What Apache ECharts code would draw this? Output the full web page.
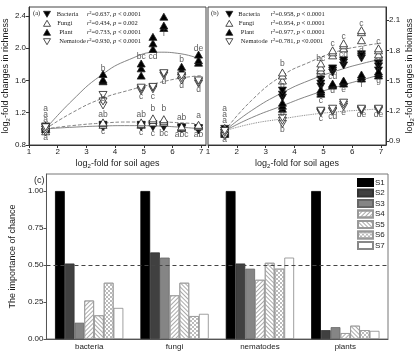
<!DOCTYPE html>
<html><head><meta charset="utf-8">
<script src="https://cdn.jsdelivr.net/npm/echarts@6/dist/echarts.min.js"></script>
<style>html,body{margin:0;padding:0;background:#fff}#c{width:416px;height:359px}</style>
</head><body><div id="c"></div>
<script>
// ---------- data ----------
const ages = [1.58, 3.58, 4.91, 5.32, 5.7, 6.32, 6.91];

// (a) richness, replicates per soil age
const richBacteria = [[0.99,1.01,1.03],[1.02,1.04,1.05],[1.02,1.04,1.05],[1.02,1.04,1.06],[1.02,1.04,1.05],[1.0,1.01,1.02],[0.98,1.0,1.01]];
const richFungi    = [[0.97,1.0,1.03],[1.05,1.07,1.08],[1.05,1.06,1.08],[1.08,1.11,1.13],[1.08,1.1,1.12],[1.01,1.02,1.03],[1.03,1.04,1.05]];
const richPlant    = [[1.0,1.02,1.04],[1.59,1.61,1.68],[1.66,1.75,1.81],[1.99,2.06,2.14],[2.25,2.28,2.39],[1.67,1.72,1.77],[1.82,1.85,1.92]];
const richNematode = [[0.96,0.99,1.02],[1.29,1.34,1.42],[1.47,1.49,1.51],[1.49,1.51,1.52],[1.66,1.68,1.69],[1.6,1.63,1.66],[1.56,1.58,1.6]];
const richFitBacteria = [[1.58,1.0],[2.5,1.02],[3.5,1.035],[4.5,1.04],[5.5,1.035],[6.3,1.02],[7,1.0]];
const richFitFungi    = [[1.58,1.0],[2.5,1.04],[3.5,1.07],[4.5,1.085],[5.5,1.085],[6.3,1.075],[7,1.06]];
const richFitPlant    = [[1.58,1.0],[2.5,1.35],[3.5,1.66],[4.5,1.86],[5.5,1.95],[6.3,1.93],[7,1.86]];
const richFitNematode = [[1.58,1.0],[2.5,1.2],[3.5,1.37],[4.5,1.48],[5.5,1.57],[6.3,1.63],[7,1.66]];
const richLetters = [
  [1.58,1.25,'a'],[1.58,1.18,'a'],[1.58,1.11,'a'],[1.58,0.89,'a'],
  [3.58,1.74,'b'],[3.58,1.37,'b'],[3.58,1.18,'ab'],[3.58,0.96,'c'],
  [4.91,1.9,'bc'],[4.91,1.4,'c'],[4.91,1.17,'ab'],[4.91,0.95,'c'],
  [5.32,1.9,'cd'],[5.32,1.4,'c'],[5.32,1.25,'b'],[5.32,0.94,'c'],
  [5.7,2.18,'f'],[5.7,1.59,'d'],[5.7,1.25,'b'],[5.7,0.94,'bc'],
  [6.32,1.86,'b'],[6.32,1.53,'d'],[6.32,1.14,'ab'],[6.32,0.93,'abc'],
  [6.91,2.0,'de'],[6.91,1.49,'d'],[6.91,1.16,'a'],[6.91,0.93,'ab']
];

// (b) biomass, replicates per soil age
const bioBacteria = [[0.98,1.0,1.02],[1.33,1.36,1.4],[1.44,1.47,1.51],[1.58,1.6,1.62],[1.65,1.68,1.7],[1.72,1.74,1.76],[1.6,1.64,1.67]];
const bioFungi    = [[0.98,1.0,1.03],[1.5,1.55,1.58],[1.6,1.63,1.67],[1.75,1.78,1.8],[1.82,1.85,1.87],[1.9,1.98,2.0],[1.76,1.8,1.82]];
const bioPlant    = [[0.97,0.99,1.01],[1.22,1.25,1.28],[1.37,1.39,1.41],[1.45,1.46,1.47],[1.47,1.49,1.5],[1.52,1.54,1.56],[1.55,1.57,1.59]];
const bioNematode = [[0.95,0.98,1.0],[1.07,1.1,1.13],[1.18,1.19,1.2],[1.19,1.2,1.22],[1.24,1.26,1.28],[1.2,1.21,1.22],[1.2,1.21,1.22]];
const bioFitBacteria = [[1.58,1.0],[2.5,1.2],[3.58,1.38],[4.5,1.5],[5.5,1.6],[6.5,1.68],[7,1.71]];
const bioFitFungi    = [[1.58,1.0],[2.5,1.3],[3.58,1.55],[4.5,1.68],[5.5,1.79],[6.5,1.85],[7,1.87]];
const bioFitPlant    = [[1.58,1.0],[2.5,1.13],[3.58,1.25],[4.5,1.35],[5.5,1.44],[6.5,1.52],[7,1.56]];
const bioFitNematode = [[1.58,1.0],[2.5,1.07],[3.58,1.12],[4.5,1.16],[5.5,1.19],[6.5,1.21],[7,1.22]];
const bioLetters = [
  [1.58,1.22,'a'],[1.58,1.16,'a'],[1.58,1.1,'a'],[1.58,0.91,'a'],
  [3.58,1.67,'b'],[3.58,1.45,'b'],[3.58,1.17,'b'],[3.58,1.01,'b'],
  [4.91,1.72,'bc'],[4.91,1.55,'bc'],[4.91,1.3,'c'],[4.91,1.12,'c'],
  [5.32,1.87,'c'],[5.32,1.54,'cd'],[5.32,1.4,'d'],[5.32,1.14,'cd'],
  [5.7,1.94,'c'],[5.7,1.76,'cd'],[5.7,1.41,'e'],[5.7,1.18,'e'],
  [6.32,2.06,'c'],[6.32,1.8,'d'],[6.32,1.46,'f'],[6.32,1.16,'de'],
  [6.91,1.89,'c'],[6.91,1.7,'cd'],[6.91,1.5,'g'],[6.91,1.16,'de']
];

// (c) importance of chance
const groups = ['bacteria','fungi','nematodes','plants'];
const stages = ['S1','S2','S3','S4','S5','S6','S7'];
const chance = {
  S1:[1.0,1.0,1.0,1.0],
  S2:[0.51,0.585,0.51,0.06],
  S3:[0.11,0.55,0.475,0.08],
  S4:[0.26,0.295,0.40,0.04],
  S5:[0.16,0.38,0.515,0.09],
  S6:[0.38,0.155,0.475,0.06],
  S7:[0.21,0.17,0.55,0.055]
};
const richStats = ['r\u00b2=0.637, p < 0.0001','r\u00b2=0.434, p = 0.002','r\u00b2=0.733, p < 0.0001','r\u00b2=0.930, p < 0.0001'];
const bioStats  = ['r\u00b2=0.958, p < 0.0001','r\u00b2=0.954, p < 0.0001','r\u00b2=0.977, p < 0.0001','r\u00b2=0.781, p <0.0001'];
const taxa = ['Bacteria','Fungi','Plant','Nematode'];

// ---------- chart ----------
const SANS = 'Liberation Sans, Arial, sans-serif';
const SERIF = 'Liberation Serif, Times New Roman, serif';
const AX = '#333';
function reps(arr){const o=[];arr.forEach((g,i)=>g.forEach(v=>o.push([ages[i],v])));return o;}
const symDefs = [
  {rot:180, fill:'#000'}, // bacteria ▼
  {rot:0, fill:'#fff'},   // fungi △
  {rot:0, fill:'#000'},   // plant ▲
  {rot:180, fill:'#fff'}  // nematode ▽
];
const series = [];
function panel(idx, repsArr, fits, letters, fitStyles){
  fits.forEach((f,i)=>series.push({type:'line',xAxisIndex:idx,yAxisIndex:idx,data:f,smooth:true,showSymbol:false,silent:true,z:1,
    lineStyle:{color:'#777',width:0.9,type:fitStyles[i]}}));
  repsArr.forEach((r,i)=>series.push({type:'scatter',xAxisIndex:idx,yAxisIndex:idx,data:reps(r),symbol:'triangle',
    symbolSize:[8,7],symbolRotate:symDefs[i].rot,z:3,
    itemStyle:{color:symDefs[i].fill,borderColor:'#222',borderWidth:0.8,opacity:1}}));
  series.push({type:'scatter',xAxisIndex:idx,yAxisIndex:idx,z:4,symbolSize:1,silent:true,
    itemStyle:{color:'rgba(0,0,0,0)'},
    data:letters.map(l=>({value:[l[0],l[1]],name:l[2]})),
    label:{show:true,position:'inside',formatter:'{b}',fontSize:8.5,color:'#333',fontFamily:SANS}});
}
panel(0,[richBacteria,richFungi,richPlant,richNematode],[richFitBacteria,richFitFungi,richFitPlant,richFitNematode],richLetters,['solid','dashed','solid','dashed']);
panel(1,[bioBacteria,bioFungi,bioPlant,bioNematode],[bioFitBacteria,bioFitFungi,bioFitPlant,bioFitNematode],bioLetters,['solid','dashed','solid','dotted']);

const stageStyles = {
  S1:{color:'#000',borderColor:'#000'},
  S2:{color:'#404040',borderColor:'#333'},
  S3:{color:'#858585',borderColor:'#666'},
  S4:{color:'#fff',borderColor:'#999',decal:{symbol:'rect',symbolSize:1,dashArrayX:[1,0],dashArrayY:[1,2],rotation:-Math.PI/4,color:'#aaa'}},
  S5:{color:'#fff',borderColor:'#999',decal:{symbol:'rect',symbolSize:1,dashArrayX:[1,0],dashArrayY:[1,2],rotation:Math.PI/4,color:'#aaa'}},
  S6:{color:'#fff',borderColor:'#999',decal:{symbol:'rect',symbolSize:1,dashArrayX:[[2,2],[0,2,2,0]],dashArrayY:[2,0],color:'#bbb'}},
  S7:{color:'#fff',borderColor:'#888'}
};
stages.forEach((s,i)=>{
  const ser={type:'bar',name:s,xAxisIndex:2,yAxisIndex:2,data:chance[s],barGap:'0%',barCategoryGap:'20%',
    itemStyle:Object.assign({borderWidth:0.8},stageStyles[s])};
  if(i===0) ser.markLine={silent:true,symbol:'none',label:{show:false},lineStyle:{color:'#444',type:[4,3],width:1},data:[{yAxis:0.5}]};
  series.push(ser);
});

const sub = {s:{fontSize:6,verticalAlign:'bottom',padding:[5,0,0,0],fontFamily:SANS,color:'#222'}, t:{fontSize:9,fontFamily:SANS,color:'#222'}};
function logName(rest){return '{t|log}{s|2}{t|'+rest+'}';}
const axLine={lineStyle:{color:AX,width:1}};
const axTick={length:3,lineStyle:{color:AX}};
const axLab={fontSize:8,color:'#222',fontFamily:SANS,margin:3};

const option = {
  animation:false,
  backgroundColor:'#fff',
  grid:[
    {left:29,top:7,width:177,height:138,show:true,borderColor:'#444',borderWidth:1},
    {left:208,top:7,width:179,height:138,show:true,borderColor:'#444',borderWidth:1},
    {left:29,top:174,width:359,height:165,show:true,borderColor:'#777',borderWidth:1}
  ],
  xAxis:[
    {gridIndex:0,type:'value',min:1,max:7.17,axisLine:axLine,axisTick:Object.assign({customValues:[1,2,3,4,5,6,7]},axTick),
      axisLabel:Object.assign({customValues:[1,2,3,4,5,6,7]},axLab),splitLine:{show:false},
      name:logName('-fold for soil ages'),nameLocation:'middle',nameGap:13,nameTextStyle:{rich:sub}},
    {gridIndex:1,type:'value',min:1,max:7.17,axisLine:axLine,axisTick:Object.assign({customValues:[1,2,3,4,5,6,7]},axTick),
      axisLabel:Object.assign({customValues:[1,2,3,4,5,6,7]},axLab),splitLine:{show:false},
      name:logName('-fold for soil ages'),nameLocation:'middle',nameGap:13,nameTextStyle:{rich:sub}},
    {gridIndex:2,type:'category',data:groups,axisLine:{lineStyle:{color:'#555'}},axisTick:{alignWithLabel:true,length:2,lineStyle:{color:'#555'}},
      axisLabel:{fontSize:8,color:'#222',fontFamily:SANS,margin:4}}
  ],
  yAxis:[
    {gridIndex:0,type:'value',min:0.8,max:2.51,axisLine:Object.assign({show:true},axLine),
      axisTick:Object.assign({show:true,customValues:[0.8,1.2,1.6,2.0,2.4]},axTick),
      axisLabel:Object.assign({customValues:[0.8,1.2,1.6,2.0,2.4],formatter:v=>v.toFixed(1)},axLab),splitLine:{show:false},
      name:logName('-fold changes in richness'),nameLocation:'middle',nameGap:18,nameRotate:90,nameTextStyle:{rich:sub}},
    {gridIndex:1,type:'value',position:'right',min:0.86,max:2.23,axisLine:Object.assign({show:true},axLine),
      axisTick:Object.assign({show:true,customValues:[0.9,1.2,1.5,1.8,2.1]},axTick),
      axisLabel:Object.assign({customValues:[0.9,1.2,1.5,1.8,2.1],formatter:v=>v.toFixed(1)},axLab),splitLine:{show:false},
      name:logName('-fold changes in biomass'),nameLocation:'middle',nameGap:18,nameRotate:90,nameTextStyle:{rich:sub}},
    {gridIndex:2,type:'value',min:0,max:1.115,axisLine:{show:true,lineStyle:{color:'#555'}},
      axisTick:{show:true,length:3,customValues:[0,0.25,0.5,0.75,1],lineStyle:{color:'#555'}},
      axisLabel:{customValues:[0,0.25,0.5,0.75,1],formatter:v=>v.toFixed(2),fontSize:8,color:'#222',fontFamily:SANS,margin:3},
      splitLine:{show:false},name:'The importance of chance',nameLocation:'middle',nameGap:21,nameRotate:90,
      nameTextStyle:{fontSize:9,color:'#222',fontFamily:SANS}}
  ],
  legend:{data:stages,orient:'vertical',left:357,top:178,itemWidth:15,itemHeight:7,itemGap:1.5,padding:0,icon:'rect',
    textStyle:{fontSize:8,color:'#222',fontFamily:SANS,padding:[0,0,0,-3]}},
  series:series,
  graphic:[]
};

function tri(cx,cy,def){
  const h=3, w=3.5;
  const pts = def.rot===180 ? [[cx-w,cy-h],[cx+w,cy-h],[cx,cy+h]] : [[cx,cy-h],[cx+w,cy+h],[cx-w,cy+h]];
  return {type:'polygon',shape:{points:pts},style:{fill:def.fill,stroke:'#222',lineWidth:0.8},z:10};
}
function legendBlock(tag,x0,symX,labX,statX,stats){
  const g=[];
  g.push({type:'text',left:x0,top:10,z:10,style:{text:tag,font:'6.5px '+SERIF,fill:'#222'}});
  const rows=[14.3,23.3,32.3,41.7];
  const labOff=[0,0.5,2.5,2.5];
  taxa.forEach((t,i)=>{
    g.push(tri(symX,rows[i],symDefs[i]));
    g.push({type:'text',x:labX+labOff[i],y:rows[i],z:10,style:{text:t,font:'6.5px '+SERIF,fill:'#222',verticalAlign:'middle'}});
    const parts=stats[i].split(', ');
    g.push({type:'text',x:statX,y:rows[i],z:10,style:{
      text:'{i|r}{n|'+parts[0].slice(1)+', }{i|p}{n|'+parts[1].slice(1)+'}',
      verticalAlign:'middle',
      rich:{i:{font:'italic 6.5px '+SERIF,fill:'#222'},n:{font:'6.5px '+SERIF,fill:'#222'}}}});
  });
  return g;
}
option.graphic = [].concat(
  legendBlock('(a)',33,47,56.7,87,richStats),
  legendBlock('(b)',211,229.3,238.3,270.7,bioStats),
  [{type:'text',left:34,top:176,z:10,style:{text:'(c)',font:'9px '+SANS,fill:'#222'}}]
);

const chart = echarts.init(document.getElementById('c'),null,{renderer:'canvas',width:416,height:359});
chart.setOption(option);
</script></body></html>
